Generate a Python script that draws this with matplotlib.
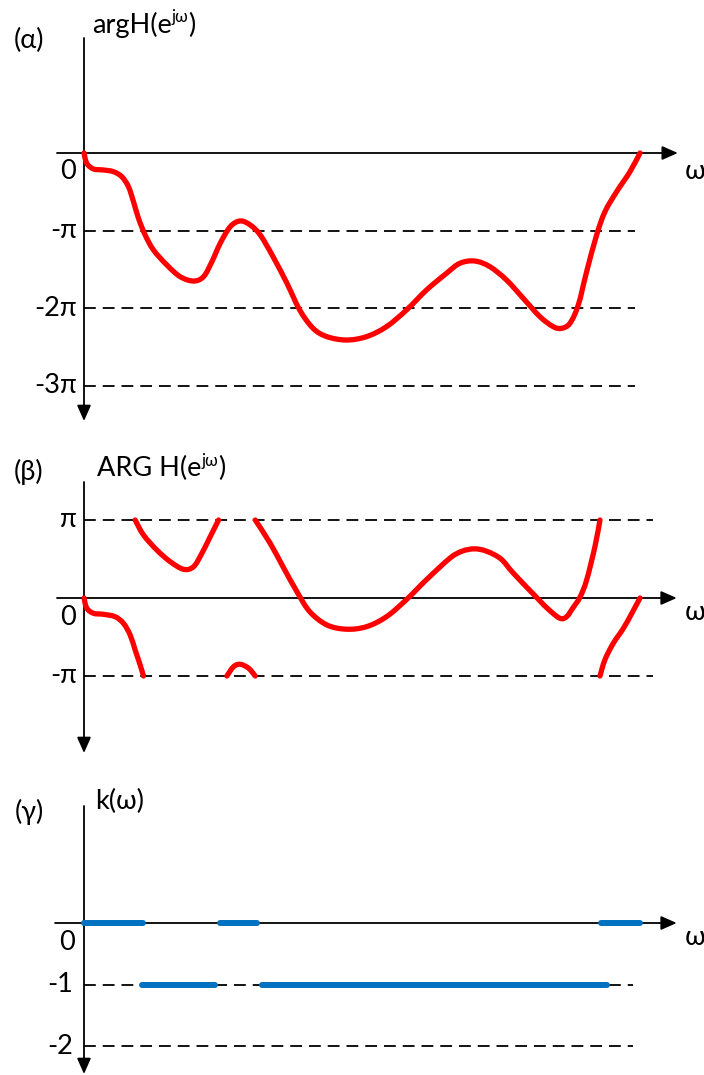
import matplotlib
matplotlib.use("Agg")
import matplotlib.pyplot as plt
from matplotlib.path import Path
from matplotlib.patches import PathPatch
import numpy as np

plt.rcParams['font.family'] = ['Lato', 'Open Sans', 'DejaVu Sans']
plt.rcParams['lines.scale_dashes'] = False

# ---------------- data (omega in units of pi, phase in units of pi) ----------------
# (alpha) unwrapped phase argH(e^jw)
arg_w = [0.000, 0.005, 0.017, 0.035, 0.053, 0.068, 0.080, 0.089, 0.098, 0.110, 0.125,
         0.149, 0.173, 0.197, 0.215, 0.230, 0.245, 0.263, 0.281, 0.299, 0.317, 0.340,
         0.365, 0.388, 0.412, 0.437, 0.472, 0.508, 0.544, 0.580, 0.616, 0.652, 0.676,
         0.703, 0.730, 0.760, 0.790, 0.820, 0.844, 0.859, 0.874, 0.889, 0.904, 0.922,
         0.937, 0.958, 0.982, 1.000]
arg_v = [0.000, -0.133, -0.206, -0.219, -0.241, -0.306, -0.435, -0.628, -0.843, -1.058,
         -1.252, -1.445, -1.596, -1.652, -1.596, -1.403, -1.165, -0.951, -0.877, -0.929,
         -1.058, -1.338, -1.681, -2.026, -2.262, -2.370, -2.413, -2.370, -2.241, -2.026,
         -1.768, -1.552, -1.423, -1.394, -1.467, -1.639, -1.875, -2.112, -2.241, -2.262,
         -2.197, -1.961, -1.532, -1.058, -0.757, -0.499, -0.241, 0.000]

# (beta) principal value ARG H(e^jw), drawn as separate branches
ARG_w = [
    [0.000, 0.005, 0.017, 0.035, 0.056, 0.071, 0.083, 0.092, 0.101, 0.107],
    [0.092, 0.107, 0.131, 0.155, 0.179, 0.197, 0.212, 0.227, 0.242],
    [0.257, 0.269, 0.281, 0.296, 0.308],
    [0.308, 0.335, 0.358, 0.383, 0.406, 0.437, 0.472, 0.508, 0.544, 0.580, 0.616,
     0.658, 0.680, 0.702, 0.724, 0.750, 0.772, 0.815, 0.836, 0.856, 0.868, 0.880,
     0.892, 0.904, 0.919, 0.928],
    [0.928, 0.937, 0.952, 0.970, 0.985, 1.000],
]
ARG_v = [
    [0.000, -0.130, -0.196, -0.209, -0.240, -0.325, -0.474, -0.667, -0.859, -1.000],
    [1.000, 0.808, 0.615, 0.466, 0.368, 0.401, 0.573, 0.786, 1.000],
    [-1.000, -0.880, -0.850, -0.900, -1.000],
    [1.000, 0.700, 0.400, 0.080, -0.175, -0.346, -0.400, -0.368, -0.240, -0.020, 0.235,
     0.510, 0.600, 0.630, 0.600, 0.500, 0.320, 0.000, -0.150, -0.260, -0.240, -0.120,
     0.010, 0.230, 0.660, 1.000],
    [-1.000, -0.790, -0.580, -0.390, -0.200, 0.000],
]

# (gamma) k(w) piecewise constant
k_start = [0.000, 0.105, 0.244, 0.321, 0.929]
k_end = [0.107, 0.236, 0.311, 0.941, 1.000]
k_val = [0, -1, 0, -1, 0]

# axis tick labels
alpha_levels = [-1, -2, -3]
alpha_labels = ['-π', '-2π', '-3π']
beta_levels = [1, -1]
beta_labels = ['π', '-π']
gamma_levels = [-1, -2]
gamma_labels = ['-1', '-2']

# ---------------- styling ----------------
RED = '#FF0000'
BLUE = '#0070C0'
FS = 19.5
AX_LW = 1.3
RED_LW = 3.8
DASH = (0, (8.5, 5.0))
ARROW = dict(arrowstyle='-|>,head_length=0.95,head_width=0.42', mutation_scale=10,
             lw=AX_LW, color='black', shrinkA=0, shrinkB=0)

W, H = 704, 1075
fig = plt.figure(figsize=(W / 100, H / 100), dpi=100)

# x mapping: omega/pi = (px - 84) / 556
XLIM = (-84 / 556, (W - 84) / 556)


def make_ax(top_px, bot_px, zero_px, unit_px):
    ax = fig.add_axes([0, 1 - bot_px / H, 1, (bot_px - top_px) / H])
    ax.set_xlim(*XLIM)
    ax.set_ylim((zero_px - bot_px) / unit_px, (zero_px - top_px) / unit_px)
    ax.axis('off')
    return ax


def axes_arrows(ax, y_top, y_bot, x_left, x_right):
    ax.annotate('', xy=(0, y_bot), xytext=(0, y_top), arrowprops=ARROW)
    ax.annotate('', xy=(x_right, 0), xytext=(x_left, 0), arrowprops=ARROW)


def smooth_curve(ax, xs, ys, **kw):
    """Draw a smooth curve through the given data points using Bezier segments."""
    P = np.column_stack([xs, ys]).astype(float)
    n = len(P)
    verts = [P[0]]
    codes = [Path.MOVETO]
    for i in range(n - 1):
        p0 = P[i - 1] if i > 0 else P[i]
        p1 = P[i]
        p2 = P[i + 1]
        p3 = P[i + 2] if i + 2 < n else P[i + 1]
        c1 = p1 + (p2 - p0) / 6.0
        c2 = p2 - (p3 - p1) / 6.0
        verts += [c1, c2, p2]
        codes += [Path.CURVE4] * 3
    patch = PathPatch(Path(verts, codes), fill=False, capstyle='round',
                      joinstyle='round', **kw)
    ax.add_patch(patch)


def sup_label(ax, x, y, base, sup, tail):
    t1 = ax.text(x, y, base, fontsize=FS, ha='left', va='baseline')
    t2 = ax.annotate(sup, xy=(1.0, 0.60), xycoords=t1, fontsize=FS * 0.62,
                     ha='left', va='baseline')
    ax.annotate(tail, xy=(1.0, 0.0), xycoords=(t2, t1), fontsize=FS,
                ha='left', va='bottom')


# ---------------- (alpha) ----------------
axA = make_ax(0, 430, 153, 77.5)
axA.hlines(alpha_levels, 0, 0.991, colors='black', lw=AX_LW, linestyles=DASH)
axes_arrows(axA, (153 - 38) / 77.5, (153 - 421) / 77.5, -0.0486, 1.068)
smooth_curve(axA, arg_w, arg_v, edgecolor=RED, lw=RED_LW, zorder=3)
axA.text(-0.099, 1.458, '(α)', fontsize=FS, ha='center', va='center')
sup_label(axA, 0.0144, 1.548, 'argH(e', 'jω', ')')
axA.text(-0.029, -0.245, '0', fontsize=FS, ha='center', va='center')
for lv, lb in zip(alpha_levels, alpha_labels):
    axA.text(-0.0126, lv, lb, fontsize=FS, ha='right', va='center')
axA.text(1.099, -0.245, 'ω', fontsize=FS, ha='center', va='center')

# ---------------- (beta) ----------------
axB = make_ax(430, 770, 598, 78)
axB.hlines(beta_levels, 0, 1.023, colors='black', lw=AX_LW, linestyles=DASH)
axes_arrows(axB, (598 - 482) / 78, (598 - 753) / 78, -0.0486, 1.066)
for ws, vs in zip(ARG_w, ARG_v):
    smooth_curve(axB, ws, vs, edgecolor=RED, lw=RED_LW, zorder=3)
axB.text(-0.099, 1.615, '(β)', fontsize=FS, ha='center', va='center')
sup_label(axB, 0.023, 1.564, 'ARG H(e', 'jω', ')')
axB.text(-0.029, -0.244, '0', fontsize=FS, ha='center', va='center')
for lv, lb in zip(beta_levels, beta_labels):
    axB.text(-0.0126, lv, lb, fontsize=FS, ha='right', va='center')
axB.text(1.099, -0.18, 'ω', fontsize=FS, ha='center', va='center')

# ---------------- (gamma) ----------------
axG = make_ax(770, 1075, 923, 61.5)
axG.hlines(gamma_levels, 0, 0.987, colors='black', lw=AX_LW, linestyles=DASH)
axes_arrows(axG, (923 - 806) / 61.5, (923 - 1074) / 61.5, -0.052, 1.066)
for s, e, k in zip(k_start, k_end, k_val):
    axG.plot([s, e], [k, k], color=BLUE, lw=4.3, solid_capstyle='round', zorder=3)
axG.text(-0.099, 1.805, '(γ)', fontsize=FS, ha='center', va='center')
axG.text(0.0198, 1.849, 'k(ω)', fontsize=FS, ha='left', va='baseline')
axG.text(-0.031, -0.325, '0', fontsize=FS, ha='center', va='center')
for lv, lb in zip(gamma_levels, gamma_labels):
    axG.text(-0.0198, lv, lb, fontsize=FS, ha='right', va='center')
axG.text(1.099, -0.228, 'ω', fontsize=FS, ha='center', va='center')

fig.savefig('out.png', dpi=100)
